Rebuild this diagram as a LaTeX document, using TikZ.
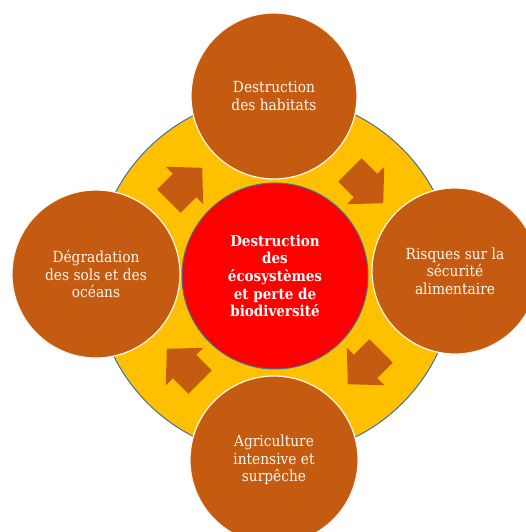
\documentclass[tikz,border=0pt]{standalone}
\usepackage{fontspec}
\setmainfont[FakeStretch=0.9]{DejaVu Serif}
\definecolor{brun}{HTML}{C55A11}
\definecolor{jaune}{HTML}{FFC000}
\definecolor{rouge}{HTML}{FF0000}
\definecolor{bord}{HTML}{41719C}
\definecolor{creme}{HTML}{FFF8F0}
\tikzset{
  outer/.style={circle, fill=brun, draw=creme, line width=1.2pt, minimum size=#1, inner sep=0pt,
    text=creme, align=center, font=\fontsize{15.3}{17.7}\selectfont},
  ring/.style={circle, fill=jaune, draw=bord, line width=1pt, minimum size=360pt, inner sep=0pt},
  core/.style={circle, fill=rouge, draw=bord, line width=1pt, minimum size=186pt, inner sep=0pt,
    text=white, align=center, font=\bfseries\fontsize{15}{17.7}\selectfont},
  flowarrow/.style={fill=brun},
}
\begin{document}
\begin{tikzpicture}[x=1pt,y=1pt]
\useasboundingbox (-275,-256) rectangle (250,276);
\node[ring] (ring) at (0,0) {};
\node[core] (core) at (0,0) {Destruction\\des\\écosystèmes\\et perte de\\biodiversité};
\foreach \pos in {135,45,-45,-135}{
  \begin{scope}[shift={(\pos:128)}, rotate=\pos-90]
    \fill[flowarrow] (-22,16.5) -- (0,16.5) -- (0,26.5) -- (25,0) -- (0,-26.5) -- (0,-16.5) -- (-22,-16.5) -- cycle;
  \end{scope}
}
\node[outer=166pt] (top) at (-1,180) {Destruction\\des habitats};
\node[outer=166pt] (right) at (180,5) {Risques sur la\\sécurité\\alimentaire};
\node[outer=168pt] (bottom) at (-1,-184) {Agriculture\\intensive et\\surpêche};
\node[outer=168pt] (left) at (-179,2) {Dégradation\\des sols et des\\océans};
\end{tikzpicture}
\end{document}
